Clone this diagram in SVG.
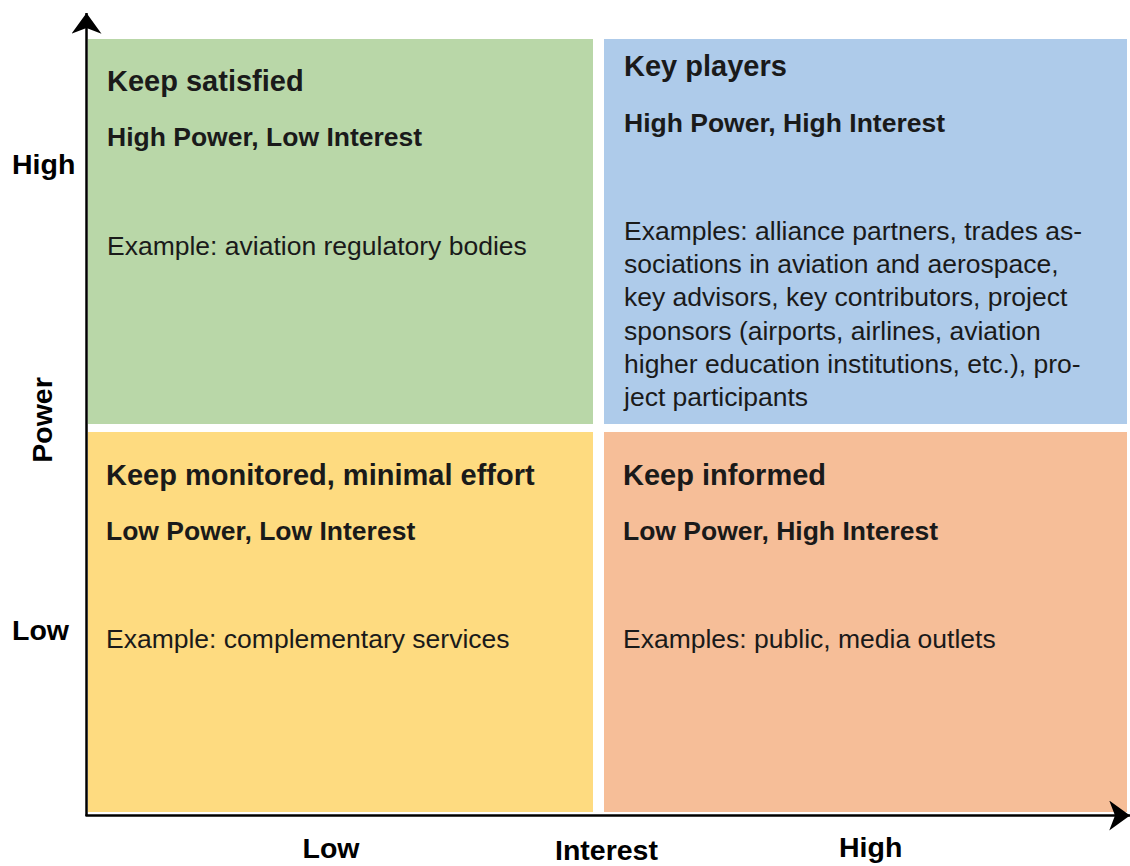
<svg xmlns="http://www.w3.org/2000/svg" width="1130" height="866" viewBox="0 0 1130 866">
  <style>
    text { font-family: "Liberation Sans", Arial, Helvetica, sans-serif; fill: #1a1a1a; }
    .title { font-size: 29px; font-weight: bold; }
    .sub { font-size: 26.5px; font-weight: bold; }
    .body { font-size: 26.5px; }
    .axis { font-size: 28.5px; font-weight: bold; fill: #000; }
    .ax { stroke: #000; stroke-width: 2.5; fill: none; }
  </style>
  <defs>
    <marker id="arr" markerUnits="userSpaceOnUse" markerWidth="30" markerHeight="30" viewBox="0 0 18 26" refX="18" refY="13" orient="auto">
      <path d="M0,0 L18,13 L0,26 L5,13 Z" fill="#000"/>
    </marker>
  </defs>

  <g id="q-keep-satisfied">
    <rect x="88" y="39" width="505" height="385" fill="#B9D7A8"/>
    <text class="title" x="107" y="91">Keep satisfied</text>
    <text class="sub" x="107" y="146">High Power, Low Interest</text>
    <text class="body" x="107" y="254.5">Example: aviation regulatory bodies</text>
  </g>

  <g id="q-key-players">
    <rect x="604" y="39" width="523" height="385" fill="#AECBEA"/>
    <text class="title" x="624" y="76">Key players</text>
    <text class="sub" x="624" y="131.5">High Power, High Interest</text>
    <text class="body" x="624">
      <tspan x="624" y="240">Examples: alliance partners, trades as-</tspan>
      <tspan x="624" y="273">sociations in aviation and aerospace,</tspan>
      <tspan x="624" y="306">key advisors, key contributors, project</tspan>
      <tspan x="624" y="339.5">sponsors (airports, airlines, aviation</tspan>
      <tspan x="624" y="372.5">higher education institutions, etc.), pro-</tspan>
      <tspan x="624" y="405.5">ject participants</tspan>
    </text>
  </g>

  <g id="q-keep-monitored">
    <rect x="88" y="432" width="505" height="380" fill="#FEDB80"/>
    <text class="title" x="106" y="485">Keep monitored, minimal effort</text>
    <text class="sub" x="106" y="540">Low Power, Low Interest</text>
    <text class="body" x="106" y="647.5">Example: complementary services</text>
  </g>

  <g id="q-keep-informed">
    <rect x="604" y="432" width="523" height="380" fill="#F6BE98"/>
    <text class="title" x="623" y="485">Keep informed</text>
    <text class="sub" x="623" y="540">Low Power, High Interest</text>
    <text class="body" x="623" y="647.5">Examples: public, media outlets</text>
  </g>

  <g id="axes">
    <line class="ax" x1="86.5" y1="816" x2="86.5" y2="13" marker-end="url(#arr)"/>
    <line class="ax" x1="85.5" y1="815.5" x2="1130" y2="815.5" marker-end="url(#arr)"/>
  </g>

  <g id="axis-labels">
    <text class="axis" x="12" y="174">High</text>
    <text class="axis" x="12" y="640">Low</text>
    <text class="axis" text-anchor="middle" transform="translate(51.5,420) rotate(-90)">Power</text>
    <text class="axis" x="302.5" y="858">Low</text>
    <text class="axis" x="555" y="860">Interest</text>
    <text class="axis" x="839" y="856.5">High</text>
  </g>
</svg>
